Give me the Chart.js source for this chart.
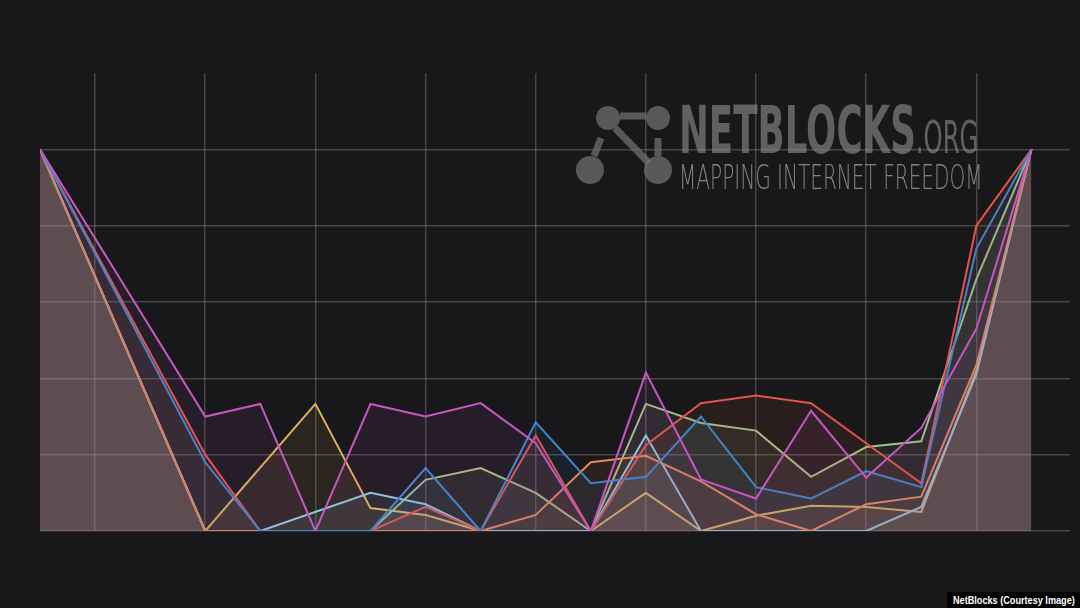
<!DOCTYPE html>
<html>
<head>
<meta charset="utf-8">
<script src="https://cdn.jsdelivr.net/npm/chart.js@4/dist/chart.umd.min.js"></script>
<style>
  html, body { margin: 0; padding: 0; background: #18181a; }
  #wrap { position: relative; width: 1080px; height: 608px; overflow: hidden; }
  #netChart { position: absolute; left: 0; top: 0; }
  .wm { position: absolute; color: rgba(140,140,140,0.62); font-family: "DejaVu Sans", sans-serif; white-space: nowrap; transform-origin: 0 0; pointer-events: none; }
  #credit { position: absolute; left: 947px; top: 592px; width: 133px; height: 16px; background: #000; overflow: hidden; }
  #credit span { position: absolute; left: 6px; top: 0; color: #fff; font: bold 11px "Liberation Sans", Arial, sans-serif;
    line-height: 16px; white-space: nowrap; transform: scaleX(0.83); transform-origin: 0 0; }
</style>
</head>
<body>
<div id="wrap">
  <canvas id="netChart" width="1080" height="608"></canvas>
  <svg style="position:absolute;left:570px;top:100px;pointer-events:none" width="110" height="90">
    <g fill="rgba(115,115,115,0.7)" stroke="rgba(115,115,115,0.7)" stroke-width="7">
      <circle cx="20" cy="70" r="14" stroke="none"/>
      <circle cx="38" cy="18" r="12" stroke="none"/>
      <circle cx="88" cy="18" r="12" stroke="none"/>
      <circle cx="88" cy="70" r="14" stroke="none"/>
      <line x1="50" y1="16" x2="76" y2="16"/>
      <line x1="31" y1="38" x2="24" y2="56"/>
      <line x1="45" y1="28" x2="79" y2="63"/>
      <line x1="88" y1="38" x2="88" y2="56"/>
    </g>
  </svg>
  <div class="wm" style="left:679px;top:92px;font-size:66px;font-weight:bold;transform:scaleX(0.54);">NETBLOCKS<span style="font-size:45px;font-weight:normal;">.ORG</span></div>
  <div class="wm" style="left:679px;top:157px;font-size:34px;font-weight:200;color:rgba(165,165,165,0.75);transform:scaleX(0.59);">MAPPING INTERNET FREEDOM</div>
  <div id="credit"><span>NetBlocks (Courtesy Image)</span></div>
</div>
<script>
// sample index 0..18, null = no sample
const steps = [0, 1, 2, 3, 4, 5, 6, 7, 8, 9, 10, 11, 12, 13, 14, 15, 16, 17, 18];
const gridSteps = [1, 3, 5, 7, 9, 11, 13, 15, 17];
const yTicks = [0, 0.2, 0.4, 0.6, 0.8, 1.0, 1.2];

const magenta = [1, null, null, 0.30, 0.333, 0, 0.333, 0.30, 0.335, 0.23, 0, 0.415, 0.135, 0.085, 0.315, 0.14, 0.27, 0.53, 1];
const red     = [1, null, null, 0.20, 0, 0, 0, 0.063, 0, 0.25, 0, 0.225, 0.335, 0.355, 0.335, 0.23, 0.125, 0.80, 1];
const blue    = [1, null, null, 0.18, 0, 0, 0, 0.165, 0, 0.285, 0.125, 0.142, 0.30, 0.115, 0.085, 0.157, 0.115, 0.74, 1];
const green   = [1, null, null, 0, 0, 0, 0, 0.134, 0.165, 0.10, 0, 0.333, 0.283, 0.263, 0.142, 0.22, 0.235, 0.66, 1];
const cyan    = [1, null, null, 0, 0, null, 0.10, 0.07, 0, 0, 0, 0.25, 0, 0, 0, 0, 0.063, 0.41, 1];
const orange  = [1, null, null, 0, 0, 0, 0, 0, 0, 0.042, 0.18, 0.197, 0.13, 0.044, 0, 0.07, 0.09, 0.435, 1];
const yellow  = [1, null, null, 0, null, 0.333, 0.06, 0.042, 0, 0, 0, 0.10, 0, 0.04, 0.066, 0.063, 0.05, 0.42, 1];

function pts(arr) {
    return steps.filter(i => arr[i] !== null).map(i => ({ x: i, y: arr[i] }));
}

function series(arr, line, fill) {
    return {
        data: pts(arr),
        borderColor: line,
        backgroundColor: fill,
        borderWidth: 2,
        pointRadius: 0,
        tension: 0,
        fill: 'origin'
    };
}

const gridCol = 'rgba(255,255,255,0.2)';

// first dataset is drawn on top
const ctx = document.getElementById('netChart').getContext('2d');
const netChart = new Chart(ctx, {
    type: 'line',
    data: {
        datasets: [
            series(magenta, '#c457c2', 'rgba(196,87,194,0.09)'),
            series(blue, '#3f86c9', 'rgba(63,134,201,0.085)'),
            series(red, '#e0544c', 'rgba(224,84,76,0.09)'),
            series(orange, '#e8885a', 'rgba(232,136,90,0.09)'),
            series(cyan, '#8ccbe2', 'rgba(140,203,226,0.085)'),
            series(green, '#9fc486', 'rgba(159,196,134,0.085)'),
            series(yellow, '#dfb556', 'rgba(223,181,86,0.09)')
        ]
    },
    options: {
        responsive: false,
        animation: false,
        layout: { padding: { left: 40, right: 10, top: 73, bottom: 77 } },
        plugins: { legend: { display: false }, tooltip: { enabled: false } },
        scales: {
            x: {
                type: 'linear',
                min: 0,
                max: 18.7,
                afterBuildTicks: (scale) => { scale.ticks = gridSteps.map(v => ({ value: v })); },
                ticks: { display: false },
                border: { display: false },
                grid: { color: gridCol, lineWidth: 1.5, drawTicks: false }
            },
            y: {
                min: 0,
                max: 1.2,
                afterBuildTicks: (scale) => { scale.ticks = yTicks.map(v => ({ value: v })); },
                ticks: { display: false },
                border: { display: false },
                grid: {
                    color: (c) => c.tick && c.tick.value > 1.01 ? 'transparent' : gridCol,
                    lineWidth: 1.5,
                    drawTicks: false
                }
            }
        }
    }
});
</script>
</body>
</html>
